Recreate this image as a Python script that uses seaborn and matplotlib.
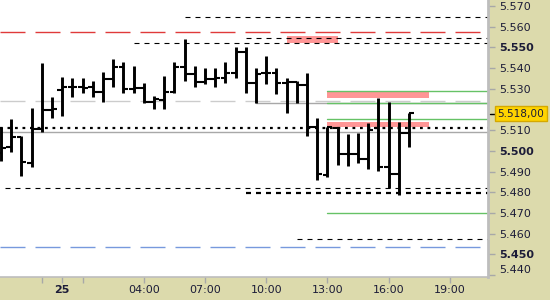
import matplotlib
matplotlib.use("Agg")
import matplotlib.pyplot as plt
import matplotlib.transforms as mtrans
import pandas as pd
import seaborn as sns

# ---- data (hours relative to midnight of the 25th) ----
bar_hours = [-3.0, -2.5, -2.0, -1.5, -1.0, -0.5, 0.0, 0.5, 1.0, 1.5, 2.0,
             2.5, 3.0, 3.5, 4.0, 4.5, 5.0, 5.5, 6.0, 6.5, 7.0, 7.5, 8.0,
             8.5, 9.0, 9.5, 10.0, 10.5, 11.0, 11.5, 12.0, 12.5, 13.0, 13.5,
             14.0, 14.5, 15.0, 15.5, 16.0, 16.5, 17.0]
opens = [5.4992, 5.5018, 5.5069, 5.4943, 5.5108, 5.5198, 5.5295, 5.5309, 5.5309,
         5.5309, 5.5286, 5.5348, 5.5407, 5.5298, 5.5303, 5.5235, 5.5246, 5.5286,
         5.5407, 5.5371, 5.5335, 5.5348, 5.5354, 5.5378, 5.5480, 5.5330, 5.5375,
         5.5378, 5.5330, 5.5335, 5.5319, 5.5117, 5.4884, 5.5113, 5.4986, 5.4986,
         5.4960, 5.5110, 5.4921, 5.4889, 5.5086]
highs = [5.5116, 5.5155, 5.5072, 5.5208, 5.5425, 5.5262, 5.5357, 5.5353, 5.5353,
         5.5338, 5.5382, 5.5444, 5.5430, 5.5411, 5.5327, 5.5266, 5.5362, 5.5430,
         5.5541, 5.5411, 5.5402, 5.5402, 5.5430, 5.5501, 5.5504, 5.5400, 5.5459,
         5.5402, 5.5351, 5.5338, 5.5375, 5.5158, 5.5117, 5.5113, 5.5082, 5.5086,
         5.5134, 5.5255, 5.5238, 5.5142, 5.5185]
lows = [5.4952, 5.4995, 5.4881, 5.4924, 5.5093, 5.5159, 5.5169, 5.5262, 5.5280,
        5.5262, 5.5238, 5.5311, 5.5279, 5.5279, 5.5230, 5.5204, 5.5204, 5.5282,
        5.5340, 5.5308, 5.5324, 5.5311, 5.5327, 5.5354, 5.5279, 5.5230, 5.5324,
        5.5275, 5.5185, 5.5233, 5.5072, 5.4860, 5.4876, 5.4932, 5.4928, 5.4941,
        5.4912, 5.4905, 5.4820, 5.4787, 5.5018]
closes = [5.5013, 5.5069, 5.4948, 5.5108, 5.5198, 5.5201, 5.5311, 5.5309, 5.5304,
          5.5286, 5.5348, 5.5407, 5.5298, 5.5306, 5.5235, 5.5250, 5.5286, 5.5407,
          5.5371, 5.5335, 5.5348, 5.5354, 5.5378, 5.5480, 5.5330, 5.5372, 5.5378,
          5.5330, 5.5335, 5.5319, 5.5117, 5.4887, 5.5117, 5.4986, 5.4986, 5.4960,
          5.5101, 5.4921, 5.4889, 5.5086, 5.5185]

last_price = 5.518
last_label = "5.518,00"

red_level = 5.5573
light_gray_level = 5.5242
blue_level = 5.4535
dotted_level = 5.5113
gray_level = 5.5090
dash_levels = [5.5649, 5.5544, 5.5520, 5.4823, 5.4573]
dash_starts = [6.0, 9.0, 3.5, -2.8, 11.5]
thick_dash_level = 5.4799
thick_dash_start = 9.0
gray_part_level = 5.5230
gray_part_start = 9.5
green_levels = [5.5291, 5.5230, 5.5155, 5.4702]
green_start = 13.0
zone_low = [5.5520, 5.5257, 5.5117]
zone_high = [5.5555, 5.5286, 5.5142]
zone_start = [11.0, 13.0, 13.0]
zone_end = [13.5, 18.0, 18.0]

y_ticks = [5.44, 5.45, 5.46, 5.47, 5.48, 5.49, 5.50, 5.51, 5.53, 5.54, 5.55, 5.56, 5.57]
y_labels = ["5.440", "5.450", "5.460", "5.470", "5.480", "5.490", "5.500", "5.510",
            "5.530", "5.540", "5.550", "5.560", "5.570"]
x_ticks = [0, 4, 7, 10, 13, 16, 19]
x_labels = ["25", "04:00", "07:00", "10:00", "13:00", "16:00", "19:00"]
x_minor = [-1, 1]

df = pd.DataFrame({"t": bar_hours, "open": opens, "high": highs,
                   "low": lows, "close": closes})

# ---- style ----
sns.set_theme(style="white")
plt.rcParams["font.family"] = ["DejaVu Sans"]
plt.rcParams["lines.scale_dashes"] = False

khaki = "#DCDAAC"
fig = plt.figure(figsize=(5.5, 3.0), dpi=100, facecolor=khaki)
ax = fig.add_axes([0, 23 / 300, 488 / 550, 277 / 300])
ax.set_facecolor("white")

XMIN, XMAX = -3.054, 20.87
ax.set_xlim(XMIN, XMAX)
ax.set_ylim(5.4391, 5.5729)

# zones
for lo, hi, s, e in zip(zone_low, zone_high, zone_start, zone_end):
    ax.fill_between([s, e], lo, hi, color="#FF9696", lw=0, zorder=1)

# level lines
long_dash = (0, (18, 7.2))
short_dash = (0, (3.6, 3.6))
ax.plot([XMIN, XMAX], [red_level] * 2, color="#E03A3A", lw=1.0, ls=long_dash, zorder=2)
ax.plot([XMIN, XMAX], [light_gray_level] * 2, color="#CCCCCC", lw=1.0, ls=long_dash, zorder=2)
ax.plot([XMIN, XMAX], [blue_level] * 2, color="#7799DD", lw=1.0, ls=long_dash, zorder=2)
ax.plot([XMIN, XMAX], [gray_level] * 2, color="#A8A8A8", lw=1.0, zorder=2)
ax.plot([XMIN, XMAX], [dotted_level] * 2, color="black", lw=1.6, ls=(0, (2, 3.4)), zorder=2)
for lv, s in zip(dash_levels, dash_starts):
    ax.plot([s, XMAX], [lv, lv], color="black", lw=0.8, ls=short_dash, zorder=2)
ax.plot([thick_dash_start, XMAX], [thick_dash_level] * 2, color="black", lw=1.6,
        ls=short_dash, zorder=2)
ax.plot([gray_part_start, XMAX], [gray_part_level] * 2, color="#A8A8A8", lw=1.0, zorder=2)
for lv in green_levels:
    ax.plot([green_start, XMAX], [lv, lv], color="#66C266", lw=1.0, zorder=2)

# OHLC bars
tick_len = 0.24
ax.vlines(df["t"], df["low"], df["high"], color="black", lw=2.1, zorder=3)
ax.hlines(df["open"], df["t"] - tick_len, df["t"], color="black", lw=1.5, zorder=3)
ax.hlines(df["close"], df["t"], df["t"] + tick_len, color="black", lw=1.5, zorder=3)

# axes styling
for side in ["top", "left"]:
    ax.spines[side].set_visible(False)
ax.spines["right"].set_color("#BDBDBD")
ax.spines["right"].set_linewidth(2.0)
ax.spines["bottom"].set_color("#BDBDBD")
ax.spines["bottom"].set_linewidth(1.2)

ax.yaxis.tick_right()
ax.set_yticks(y_ticks)
ax.set_yticklabels(y_labels)
ax.tick_params(axis="y", which="major", right=True, left=False, length=5, width=1,
               color="#A8A8A8", pad=3, labelsize=8, labelcolor="#1C1C38", direction="out")
for lab, v in zip(ax.get_yticklabels(), y_ticks):
    if abs(round(v * 1000) % 50) == 0:
        lab.set_fontweight("bold")
    if abs(v - 5.44) < 1e-6:
        lab.set_va("bottom")

ax.set_xticks(x_ticks)
ax.set_xticklabels(x_labels)
ax.set_xticks(x_minor, minor=True)
ax.tick_params(axis="x", which="both", bottom=True, length=4, width=1, color="#A8A8A8",
               pad=2, labelsize=8, labelcolor="#1C1C38", direction="out")
ax.get_xticklabels()[0].set_fontweight("bold")
ax.grid(False)

# last price marker
blend = mtrans.blended_transform_factory(ax.transAxes, ax.transData)
ax.plot([1.004, 1.014], [last_price, last_price], transform=blend, color="black",
        lw=1.0, clip_on=False, zorder=5)
ax.text(1.019, last_price, last_label, transform=blend, ha="left", va="center",
        fontsize=7.6, color="#1C1C38", clip_on=False, zorder=6,
        bbox=dict(boxstyle="square,pad=0.25", fc="#FFD400", ec="#D4A800", lw=1.0))

fig.savefig("out.png", dpi=100, facecolor=khaki)
